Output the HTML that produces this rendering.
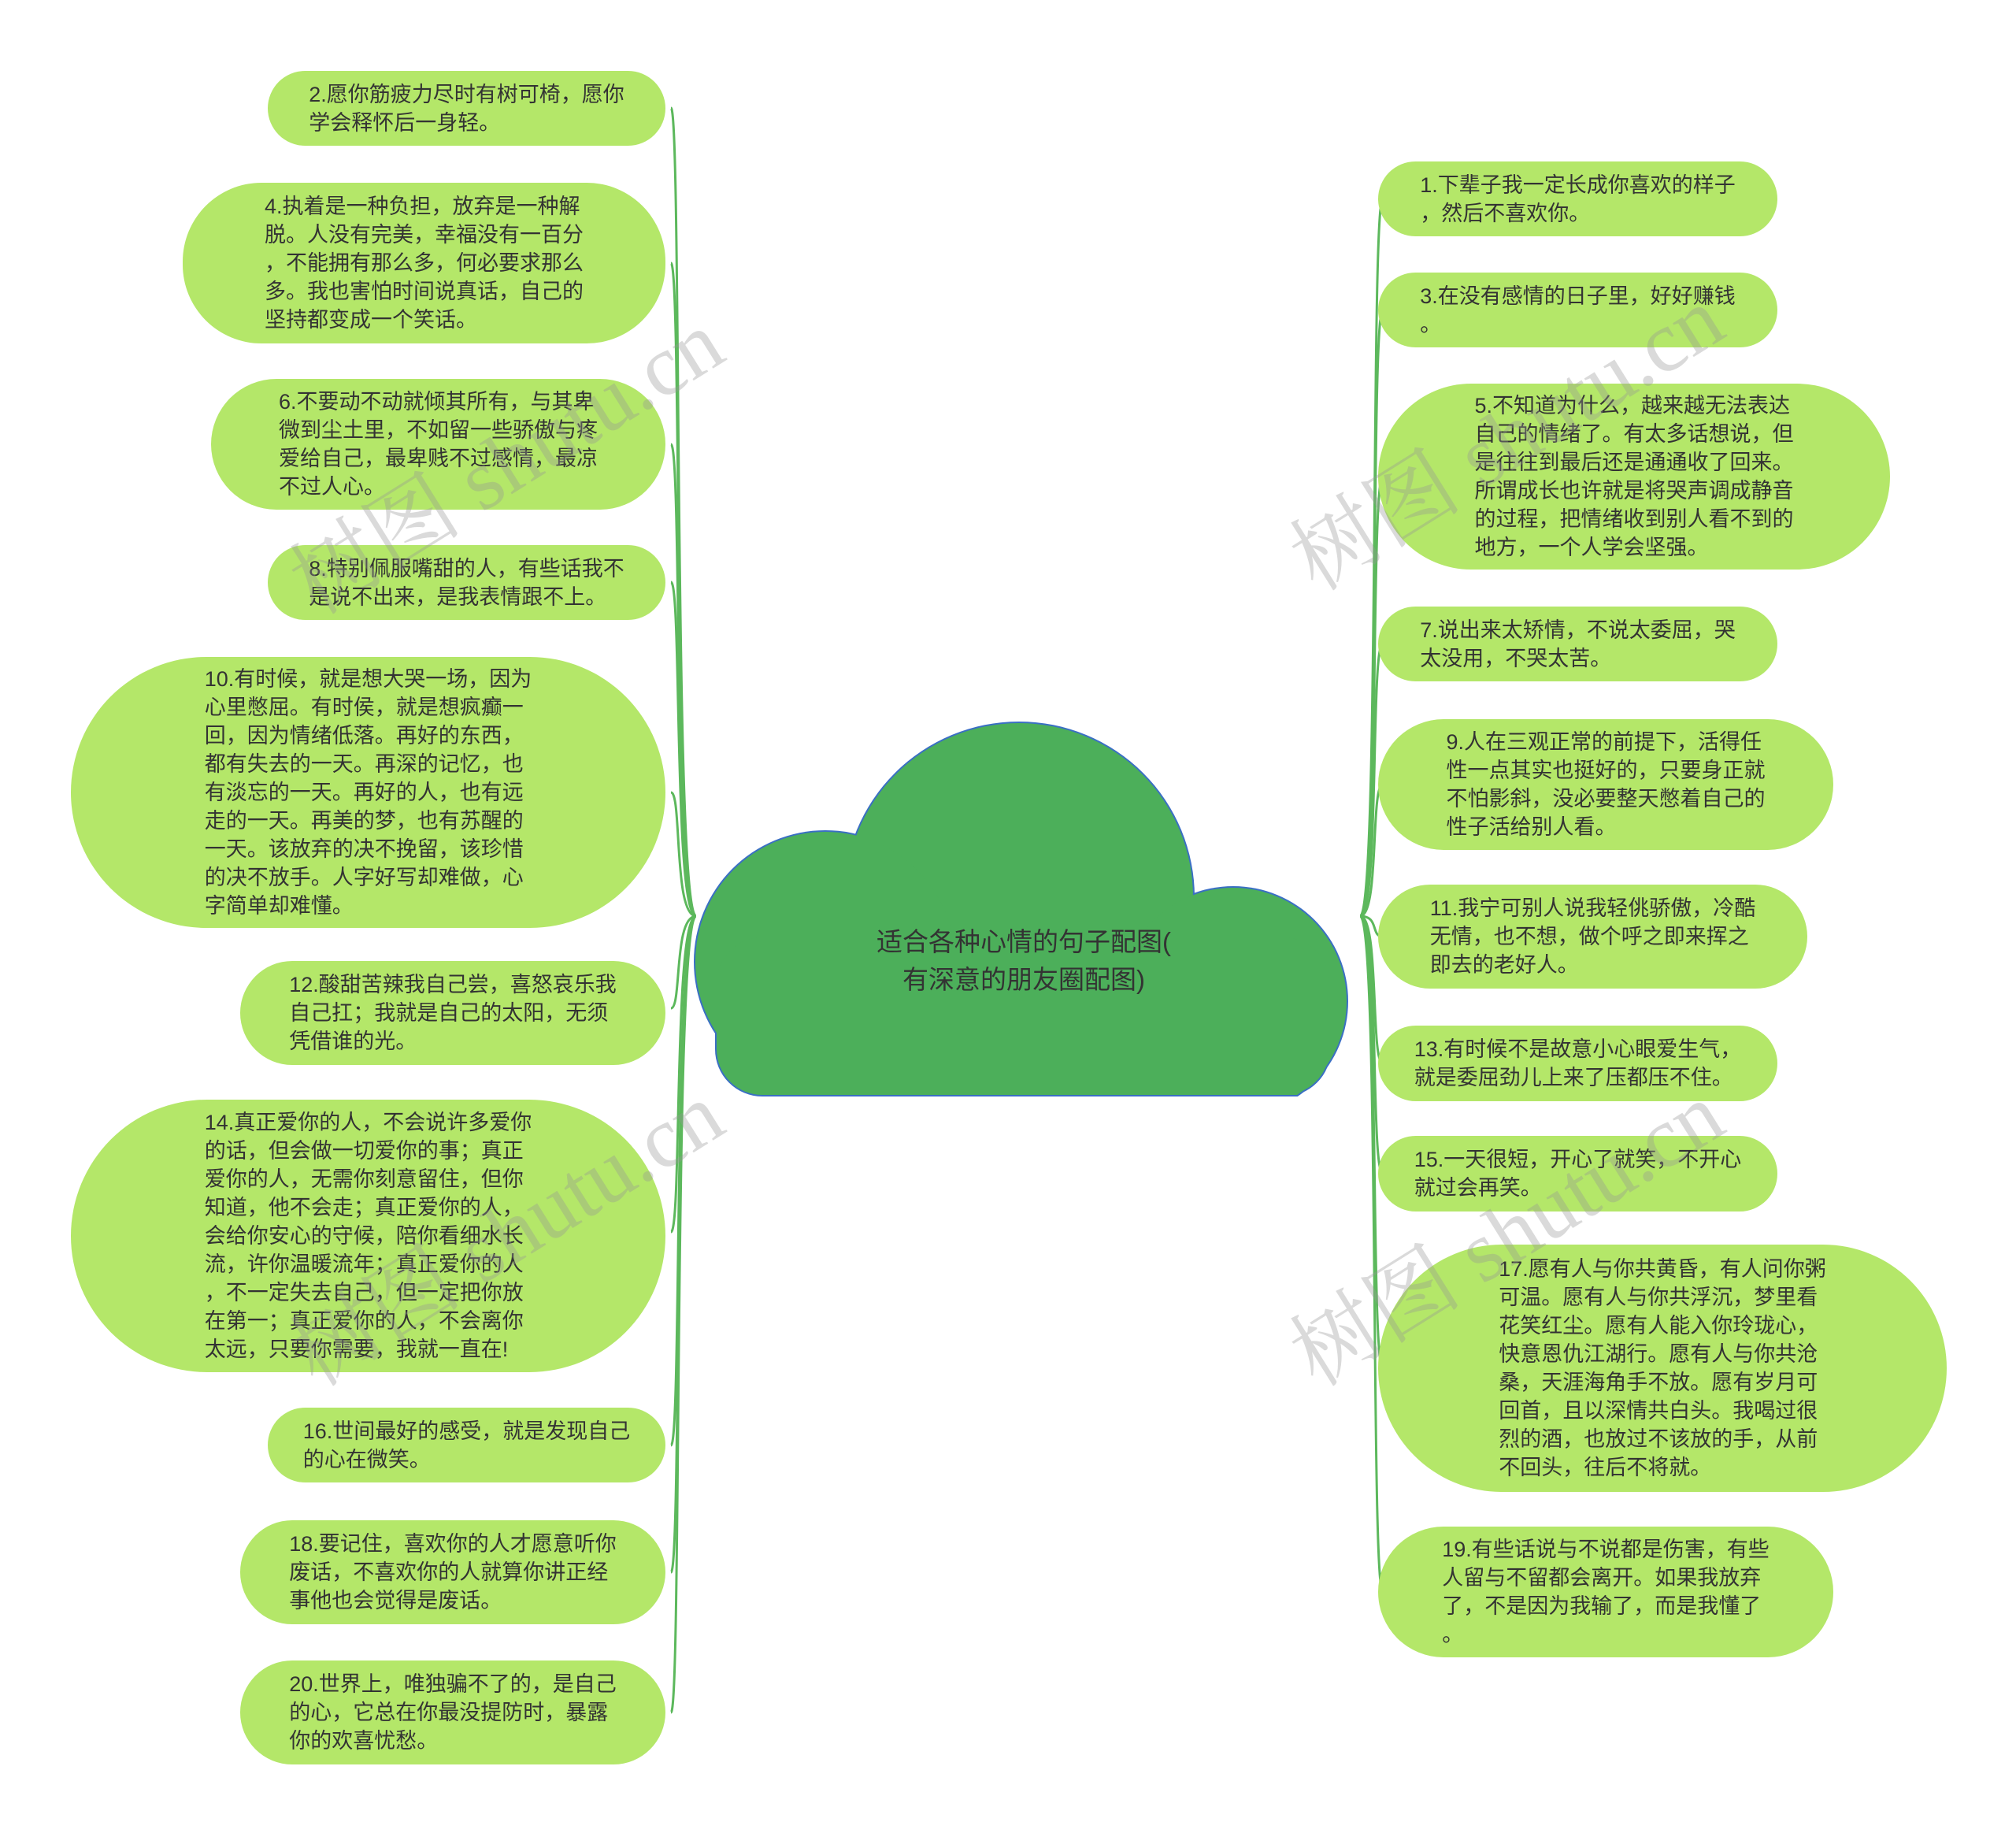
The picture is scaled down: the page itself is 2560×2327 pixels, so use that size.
<!DOCTYPE html>
<html><head><meta charset="utf-8"><style>
html,body{margin:0;padding:0;background:#fff;}
body{width:2560px;height:2327px;position:relative;overflow:hidden;font-family:"Liberation Sans","Noto Sans CJK SC",sans-serif;}
.n{position:absolute;background:#b4e769;border-radius:100px;display:flex;align-items:center;justify-content:center;color:#333;font-size:27px;line-height:36px;}
.n div{text-align:left;white-space:nowrap;}
.wm{position:absolute;font-family:"Liberation Serif","Noto Serif CJK SC",serif;font-size:110px;color:rgba(150,150,150,0.35);transform:rotate(-32deg);white-space:nowrap;}
svg{position:absolute;left:0;top:0;}
</style></head><body>
<svg width="2560" height="2327">
<defs>
<clipPath id="c1"><rect x="0" y="0" width="2560" height="1392"/></clipPath>
<clipPath id="c2"><rect x="0" y="0" width="2560" height="1390"/></clipPath>
</defs>
<g fill="none" stroke="#5cb85c" stroke-width="3">
<path d="M884,1163 C855,1163 866,137 852,137"/>
<path d="M884,1163 C855,1163 866,334 852,334"/>
<path d="M884,1163 C855,1163 866,564 852,564"/>
<path d="M884,1163 C855,1163 866,739 852,739"/>
<path d="M884,1163 C855,1163 866,1006 852,1006"/>
<path d="M884,1163 C855,1163 866,1280 852,1280"/>
<path d="M884,1163 C855,1163 866,1564 852,1564"/>
<path d="M884,1163 C855,1163 866,1835 852,1835"/>
<path d="M884,1163 C855,1163 866,1996 852,1996"/>
<path d="M884,1163 C855,1163 866,2174 852,2174"/>
<path d="M1727,1163 C1752,1163 1740,252 1756,252"/>
<path d="M1727,1163 C1752,1163 1740,393 1756,393"/>
<path d="M1727,1163 C1752,1163 1740,605 1756,605"/>
<path d="M1727,1163 C1752,1163 1740,817 1756,817"/>
<path d="M1727,1163 C1752,1163 1740,996 1756,996"/>
<path d="M1727,1163 C1752,1163 1740,1189 1756,1189"/>
<path d="M1727,1163 C1752,1163 1740,1350 1756,1350"/>
<path d="M1727,1163 C1752,1163 1740,1490 1756,1490"/>
<path d="M1727,1163 C1752,1163 1740,1737 1756,1737"/>
<path d="M1727,1163 C1752,1163 1740,2021 1756,2021"/>
</g>
<g fill="#3a6fc4" clip-path="url(#c1)">
<circle cx="1294" cy="1139" r="223"/>
<circle cx="1048" cy="1221" r="167"/>
<circle cx="1566" cy="1271" r="146"/>
<rect x="908" y="1190" width="782" height="202" rx="60"/>
</g>
<g fill="#4caf5a" clip-path="url(#c2)">
<circle cx="1294" cy="1139" r="221"/>
<circle cx="1048" cy="1221" r="165"/>
<circle cx="1566" cy="1271" r="144"/>
<rect x="910" y="1190" width="778" height="200" rx="58"/>
</g>
<text x="1300" y="1207" font-size="33" fill="#333" text-anchor="middle" font-family="Liberation Sans, Noto Sans CJK SC, sans-serif">适合各种心情的句子配图(</text>
<text x="1300" y="1255" font-size="33" fill="#333" text-anchor="middle" font-family="Liberation Sans, Noto Sans CJK SC, sans-serif">有深意的朋友圈配图)</text>
</svg>

<div class="n" style="left:340px;top:90px;width:505px;height:95px"><div>2.愿你筋疲力尽时有树可椅，愿你<br>学会释怀后一身轻。</div></div>
<div class="n" style="left:232px;top:232px;width:613px;height:204px"><div>4.执着是一种负担，放弃是一种解<br>脱。人没有完美，幸福没有一百分<br>，不能拥有那么多，何必要求那么<br>多。我也害怕时间说真话，自己的<br>坚持都变成一个笑话。</div></div>
<div class="n" style="left:268px;top:481px;width:577px;height:166px"><div>6.不要动不动就倾其所有，与其卑<br>微到尘土里，不如留一些骄傲与疼<br>爱给自己，最卑贱不过感情，最凉<br>不过人心。</div></div>
<div class="n" style="left:340px;top:692px;width:505px;height:95px"><div>8.特别佩服嘴甜的人，有些话我不<br>是说不出来，是我表情跟不上。</div></div>
<div class="n" style="left:90px;top:834px;width:755px;height:344px;border-radius:175px"><div>10.有时候，就是想大哭一场，因为<br>心里憋屈。有时侯，就是想疯癫一<br>回，因为情绪低落。再好的东西，<br>都有失去的一天。再深的记忆，也<br>有淡忘的一天。再好的人，也有远<br>走的一天。再美的梦，也有苏醒的<br>一天。该放弃的决不挽留，该珍惜<br>的决不放手。人字好写却难做，心<br>字简单却难懂。</div></div>
<div class="n" style="left:305px;top:1220px;width:540px;height:132px"><div>12.酸甜苦辣我自己尝，喜怒哀乐我<br>自己扛；我就是自己的太阳，无须<br>凭借谁的光。</div></div>
<div class="n" style="left:90px;top:1396px;width:755px;height:346px;border-radius:175px"><div>14.真正爱你的人，不会说许多爱你<br>的话，但会做一切爱你的事；真正<br>爱你的人，无需你刻意留住，但你<br>知道，他不会走；真正爱你的人，<br>会给你安心的守候，陪你看细水长<br>流，许你温暖流年；真正爱你的人<br>，不一定失去自己，但一定把你放<br>在第一；真正爱你的人，不会离你<br>太远，只要你需要，我就一直在!</div></div>
<div class="n" style="left:340px;top:1787px;width:505px;height:95px"><div>16.世间最好的感受，就是发现自己<br>的心在微笑。</div></div>
<div class="n" style="left:305px;top:1930px;width:540px;height:132px"><div>18.要记住，喜欢你的人才愿意听你<br>废话，不喜欢你的人就算你讲正经<br>事他也会觉得是废话。</div></div>
<div class="n" style="left:305px;top:2108px;width:540px;height:132px"><div>20.世界上，唯独骗不了的，是自己<br>的心，它总在你最没提防时，暴露<br>你的欢喜忧愁。</div></div>

<div class="n" style="left:1750px;top:205px;width:507px;height:95px"><div>1.下辈子我一定长成你喜欢的样子<br>，然后不喜欢你。</div></div>
<div class="n" style="left:1750px;top:346px;width:507px;height:95px"><div>3.在没有感情的日子里，好好赚钱<br>。</div></div>
<div class="n" style="left:1750px;top:487px;width:650px;height:236px;border-radius:120px"><div>5.不知道为什么，越来越无法表达<br>自己的情绪了。有太多话想说，但<br>是往往到最后还是通通收了回来。<br>所谓成长也许就是将哭声调成静音<br>的过程，把情绪收到别人看不到的<br>地方，一个人学会坚强。</div></div>
<div class="n" style="left:1750px;top:770px;width:507px;height:95px"><div>7.说出来太矫情，不说太委屈，哭<br>太没用，不哭太苦。</div></div>
<div class="n" style="left:1750px;top:913px;width:578px;height:166px"><div>9.人在三观正常的前提下，活得任<br>性一点其实也挺好的，只要身正就<br>不怕影斜，没必要整天憋着自己的<br>性子活给别人看。</div></div>
<div class="n" style="left:1750px;top:1123px;width:545px;height:132px"><div>11.我宁可别人说我轻佻骄傲，冷酷<br>无情，也不想，做个呼之即来挥之<br>即去的老好人。</div></div>
<div class="n" style="left:1750px;top:1302px;width:507px;height:96px"><div>13.有时候不是故意小心眼爱生气，<br>就是委屈劲儿上来了压都压不住。</div></div>
<div class="n" style="left:1750px;top:1442px;width:507px;height:96px"><div>15.一天很短，开心了就笑，不开心<br>就过会再笑。</div></div>
<div class="n" style="left:1750px;top:1580px;width:722px;height:314px;border-radius:160px"><div>17.愿有人与你共黄昏，有人问你粥<br>可温。愿有人与你共浮沉，梦里看<br>花笑红尘。愿有人能入你玲珑心，<br>快意恩仇江湖行。愿有人与你共沧<br>桑，天涯海角手不放。愿有岁月可<br>回首，且以深情共白头。我喝过很<br>烈的酒，也放过不该放的手，从前<br>不回头，往后不将就。</div></div>
<div class="n" style="left:1750px;top:1938px;width:578px;height:166px"><div>19.有些话说与不说都是伤害，有些<br>人留与不留都会离开。如果我放弃<br>了，不是因为我输了，而是我懂了<br>。</div></div>

<div class="wm" style="left:330px;top:500px">树图 shutu.cn</div>
<div class="wm" style="left:1600px;top:470px">树图 shutu.cn</div>
<div class="wm" style="left:330px;top:1480px">树图 shutu.cn</div>
<div class="wm" style="left:1600px;top:1480px">树图 shutu.cn</div>
</body></html>
